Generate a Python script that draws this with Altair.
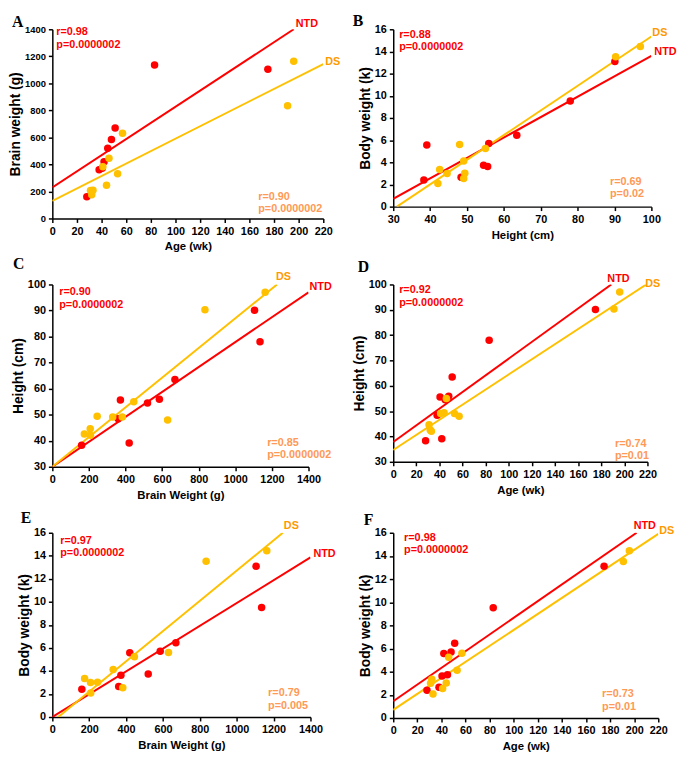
import altair as alt
import pandas as pd

# ---------------- data ----------------
# NTD subjects (red)
ntd_age = [28, 38, 40.5, 42, 45, 48, 51, 83, 175]
ntd_brain = [160, 360, 372, 420, 520, 585, 670, 1135, 1105]
ntd_height = [38.3, 48.4, 55.6, 39.1, 54.5, 55.9, 63.5, 78, 90.1]
ntd_body = [2.4, 2.65, 3.62, 5.57, 3.74, 5.7, 6.45, 9.52, 13.1]

# DS subjects (yellow)
ds_age = [31, 32, 33, 41, 44, 46, 53, 57, 191, 196]
ds_brain = [207, 175, 208, 382, 245, 445, 330, 630, 834, 1163]
ds_height = [44.6, 42.6, 42.1, 49.1, 49.4, 55, 49.1, 48, 90.3, 97]
ds_body = [3.0, 3.34, 2.08, 2.54, 3.02, 5.24, 4.12, 5.6, 13.52, 14.44]

# fitted lines as drawn: [x_start, y_start, x_end, y_end]
line_A_ntd = [0, 230, 196, 1400]
line_A_ds = [0, 130, 220, 1143]
line_B_ntd = [30, 0.71, 100, 13.6]
line_B_ds = [31, 0, 100, 15.35]
line_C_ntd = [0, 30, 1400, 97]
line_C_ds = [0, 30, 1228, 100]
line_D_ntd = [0, 37.8, 188.7, 100]
line_D_ds = [0, 34.7, 219, 100]
line_E_ntd = [0, 0, 1400, 13.86]
line_E_ds = [32, 0, 1250, 16]
line_F_ntd = [0, 1.45, 202, 16]
line_F_ds = [0, 0.7, 220, 15.9]

# statistics printed in each panel
stats_ntd = {"A": ("r=0.98", "p=0.0000002"), "B": ("r=0.88", "p=0.0000002"),
             "C": ("r=0.90", "p=0.0000002"), "D": ("r=0.92", "p=0.0000002"),
             "E": ("r=0.97", "p=0.0000002"), "F": ("r=0.98", "p=0.0000002")}
stats_ds = {"A": ("r=0.90", "p=0.0000002"), "B": ("r=0.69", "p=0.02"),
            "C": ("r=0.85", "p=0.0000002"), "D": ("r=0.74", "p=0.01"),
            "E": ("r=0.79", "p=0.005"), "F": ("r=0.73", "p=0.01")}

age_ticks = [0, 20, 40, 60, 80, 100, 120, 140, 160, 180, 200, 220]
brain_ticks = [0, 200, 400, 600, 800, 1000, 1200, 1400]
height_ticks = [30, 40, 50, 60, 70, 80, 90, 100]
body_ticks = [0, 2, 4, 6, 8, 10, 12, 14, 16]

# ---------------- styles ----------------
RED = "#FF0000"
GOLD = "#FFC000"
DS_LABEL = "#FF9900"
DS_STATS = "#FF9955"
SANS = "Liberation Sans"
SERIF = "Liberation Serif"

groups = {"NTD": {"age": ntd_age, "brain": ntd_brain, "height": ntd_height, "body": ntd_body},
          "DS": {"age": ds_age, "brain": ds_brain, "height": ds_height, "body": ds_body}}

color_scale = alt.Scale(domain=["NTD", "DS"], range=[RED, GOLD])

AXIS_STYLE = dict(
    grid=False, labelOverlap=False, labelFlush=False, labelBound=False,
    domainColor="black", domainWidth=1.5,
    tickColor="black", tickWidth=1.5, tickSize=4,
    labelFont=SANS, labelFontWeight="bold", labelColor="black",
    labelPadding=3,
    titleFont=SANS, titleFontWeight="bold", titleColor="black",
)


def panel(letter, xkey, ykey, xdom, xticks, ydom, yticks, xtitle, ytitle,
          lines, w, h, letter_pos, tl, br, lab, ylab_size=11):
    rows = []
    for g in ["NTD", "DS"]:
        for xv, yv in zip(groups[g][xkey], groups[g][ykey]):
            rows.append({"x": xv, "y": yv, "g": g})
    pts = pd.DataFrame(rows)
    lrows = []
    for g, ln in zip(["NTD", "DS"], lines):
        lrows.append({"x": ln[0], "y": ln[1], "g": g})
        lrows.append({"x": ln[2], "y": ln[3], "g": g})
    ldf = pd.DataFrame(lrows)

    xs = alt.Scale(domain=xdom, nice=False, zero=False)
    ys = alt.Scale(domain=ydom, nice=False, zero=False)
    xax = alt.Axis(values=xticks, title=xtitle, format="d", titleFontSize=11.5,
                   labelFontSize=11, titlePadding=5, **AXIS_STYLE)
    yax = alt.Axis(values=yticks, title=ytitle, format="d", titleFontSize=14,
                   labelFontSize=ylab_size, titlePadding=2, **AXIS_STYLE)

    enc_x = alt.X("x:Q", scale=xs, axis=xax)
    enc_y = alt.Y("y:Q", scale=ys, axis=yax)

    line_layer = alt.Chart(ldf).mark_line(strokeWidth=2, clip=True).encode(
        x=enc_x, y=enc_y,
        color=alt.Color("g:N", scale=color_scale, legend=None),
        detail="g:N",
    )
    pt_layer = alt.Chart(pts).mark_circle(size=58, opacity=1).encode(
        x=enc_x, y=enc_y,
        color=alt.Color("g:N", scale=color_scale, legend=None),
    )
    layers = [line_layer, pt_layer]

    # line end labels
    for g, ln, col in [("NTD", lines[0], RED), ("DS", lines[1], DS_LABEL)]:
        dx, dy = lab[g]
        df = pd.DataFrame({"x": [ln[2]], "y": [ln[3]], "t": [g]})
        layers.append(alt.Chart(df).mark_text(
            font=SANS, fontSize=11, fontWeight="bold", color=col,
            align="left", baseline="alphabetic", dx=dx, dy=dy).encode(
            x=enc_x, y=enc_y, text="t:N"))

    # statistics text
    for (px, py), texts, col in [(tl, stats_ntd[letter], RED), (br, stats_ds[letter], DS_STATS)]:
        for i, t in enumerate(texts):
            df = pd.DataFrame({"t": [t]})
            layers.append(alt.Chart(df).mark_text(
                font=SANS, fontSize=11, fontWeight="bold", color=col,
                align="left", baseline="top").encode(
                x=alt.value(px), y=alt.value(py + i * 12.5), text="t:N"))

    # panel letter
    ldf2 = pd.DataFrame({"t": [letter]})
    layers.append(alt.Chart(ldf2).mark_text(
        font=SERIF, fontSize=16, fontWeight="bold", color="black",
        align="left", baseline="alphabetic").encode(
        x=alt.value(letter_pos[0]), y=alt.value(letter_pos[1]), text="t:N"))

    return alt.layer(*layers).properties(width=w, height=h)


pA = panel("A", "age", "brain", [0, 220], age_ticks, [0, 1400], brain_ticks,
           "Age (wk)", "Brain weight (g)", [line_A_ntd, line_A_ds], 275, 192,
           (-41, -2), (4, -3), (209, 164), {"NTD": (2, -2), "DS": (2, 1)},
           ylab_size=9.5)
pB = panel("B", "height", "body", [30, 100], height_ticks, [0, 16], body_ticks,
           "Height (cm)", "Body weight (k)", [line_B_ntd, line_B_ds], 262, 180,
           (-41, -3), (6, 0), (220, 149), {"NTD": (3, -1), "DS": (1, -1)})
pC = panel("C", "brain", "height", [0, 1400], brain_ticks, [30, 100], height_ticks,
           "Brain Weight (g)", "Height (cm)", [line_C_ntd, line_C_ds], 260, 185,
           (-40, -16), (7, 2), (218, 155), {"NTD": (1, -2), "DS": (-1, -5)})
pD = panel("D", "age", "height", [0, 220], age_ticks, [30, 100], height_ticks,
           "Age (wk)", "Height (cm)", [line_D_ntd, line_D_ds], 258, 180,
           (-36, -13), (6, 0), (225, 156), {"NTD": (-4, -3), "DS": (-1, 3)})
pE = panel("E", "brain", "body", [0, 1400], brain_ticks, [0, 16], body_ticks,
           "Brain Weight (g)", "Body weight (k)", [line_E_ntd, line_E_ds], 262, 187,
           (-32, -10), (8, 2), (219, 157), {"NTD": (3, 0), "DS": (1, -4)})
pF = panel("F", "age", "body", [0, 220], age_ticks, [0, 16], body_ticks,
           "Age (wk)", "Body weight (k)", [line_F_ntd, line_F_ds], 269, 188,
           (-30, -8), (11, -1), (212, 158), {"NTD": (-3, -4), "DS": (1, 0)})

chart = alt.concat(pA, pB, pC, pD, pE, pF, columns=2,
                   spacing={"row": 67, "column": 71},
                   bounds="flush", align="each", padding=0
                   ).configure(padding=0).configure_view(stroke=None)

chart.save("out.html", embed_options={"renderer": "svg", "actions": False})
